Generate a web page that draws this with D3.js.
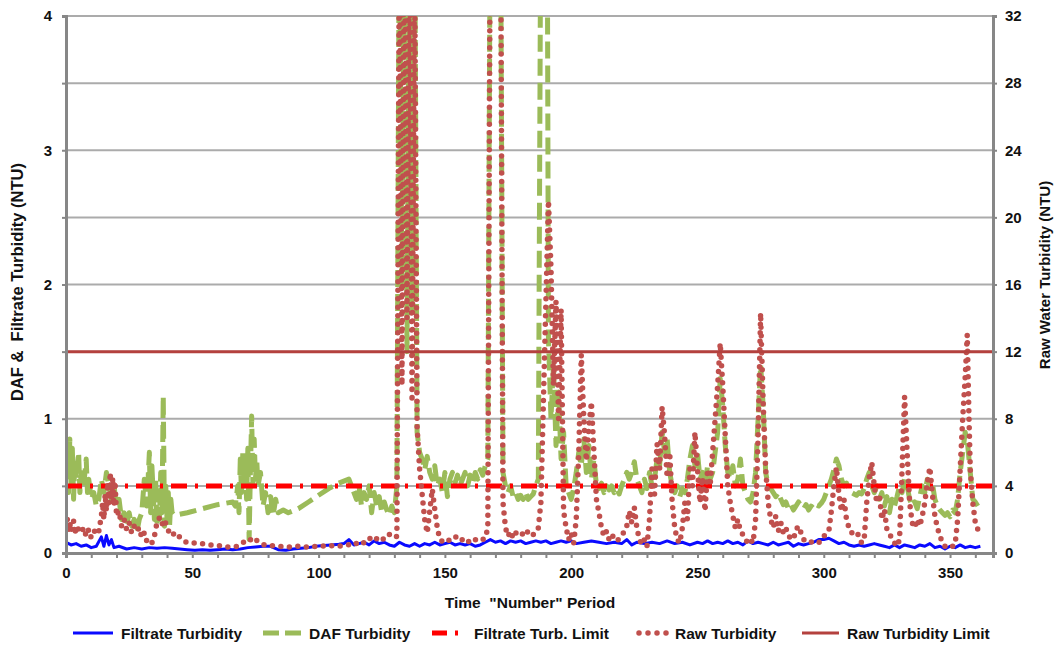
<!DOCTYPE html>
<html>
<head>
<meta charset="utf-8">
<script src="https://cdn.jsdelivr.net/npm/d3@7"></script>
<style>
  body { margin: 0; background: #fff; }
  text { font-family: "Liberation Sans", Arial, sans-serif; font-weight: bold; fill: #111; white-space: pre; }
</style>
</head>
<body>
<div id="chart-area"></div>
<script>
// ---- data: [time period, turbidity] ----
var filtrate = [[0,0.08],[2,0.06],[4,0.07],[6,0.05],[8,0.06],[10,0.04],[12,0.05],[14,0.12],[15,0.05],[16,0.13],[17,0.06],[18,0.1],[19,0.04],
  [21,0.05],[24,0.03],[27,0.04],[30,0.03],[33,0.04],[36,0.035],[39,0.04],[42,0.035],[45,0.03],[48,0.025],[51,0.02],[54,0.025],[57,0.02],
  [60,0.025],[63,0.03],[66,0.025],[69,0.03],[72,0.04],[75,0.045],[78,0.05],[81,0.05],[84,0.025],[87,0.02],[90,0.03],[93,0.035],[96,0.04],
  [99,0.05],[102,0.055],[105,0.06],[108,0.065],[110,0.07],[112,0.1],[114,0.06],[116,0.07],[118,0.08],[120,0.06],[122,0.09],[124,0.07],
  [126,0.08],[128,0.06],[130,0.05],[132,0.08],[134,0.06],[136,0.05],[138,0.07],[140,0.05],[142,0.07],[144,0.06],[146,0.08],[148,0.06],
  [150,0.07],[152,0.08],[154,0.06],[156,0.07],[158,0.06],[160,0.07],[162,0.05],[164,0.06],[166,0.08],[168,0.1],[170,0.08],[172,0.09],
  [174,0.07],[176,0.09],[178,0.08],[180,0.09],[182,0.07],[184,0.08],[186,0.09],[188,0.08],[190,0.09],[192,0.07],[194,0.08],[196,0.09],
  [198,0.08],[200,0.09],[202,0.07],[205,0.08],[208,0.09],[211,0.08],[214,0.07],[217,0.08],[220,0.07],[222,0.1],[224,0.06],[226,0.08],
  [229,0.07],[232,0.08],[235,0.07],[238,0.09],[241,0.07],[244,0.08],[247,0.06],[250,0.08],[252,0.07],[254,0.09],[256,0.07],[258,0.08],
  [260,0.07],[262,0.09],[264,0.07],[266,0.08],[268,0.06],[270,0.09],[272,0.07],[274,0.08],[276,0.07],[278,0.06],[280,0.08],[282,0.06],
  [284,0.07],[286,0.08],[288,0.05],[290,0.07],[292,0.06],[294,0.07],[296,0.08],[298,0.1],[300,0.1],[302,0.11],[304,0.09],[306,0.07],
  [308,0.08],[310,0.06],[312,0.05],[314,0.06],[316,0.05],[318,0.06],[320,0.07],[322,0.06],[324,0.05],[326,0.04],[328,0.06],[330,0.04],
  [332,0.06],[334,0.05],[336,0.04],[338,0.06],[340,0.05],[342,0.07],[344,0.04],[346,0.05],[348,0.03],[350,0.05],[352,0.04],[354,0.06],
  [356,0.04],[358,0.05],[360,0.04],[362,0.05]];

var daf = [[0,0.55],[0.5,0.8],[1,0.45],[1.5,0.85],[2,0.5],[2.5,0.78],[3,0.4],[3.5,0.7],[4,0.55],[5,0.75],[5.5,0.45],[6,0.6],[7,0.5],
  [8,0.7],[8.5,0.45],[9,0.55],[10,0.4],[11,0.45],[12,0.35],[13,0.4],[14,0.55],[15,0.45],[16,0.6],[17,0.5],[18,0.4],[19,0.5],[20,0.35],
  [21,0.4],[22,0.25],[23,0.3],[24,0.2],[25,0.3],[26,0.2],[27,0.25],[28,0.15],[29,0.25],[30,0.3],[31,0.55],[32,0.35],[33,0.75],[33.5,0.3],
  [34,0.65],[35,0.25],[35.5,0.55],[36,0.2],[36.5,0.45],[37,0.25],[37.5,0.6],[38,0.3],[38.5,1.17],[39,0.2],[39.5,0.5],[40,0.25],
  [40.5,0.45],[41,0.2],[41.5,0.4],[42,0.3],[43,0.28],[48,0.3],[54,0.33],[60,0.36],[66,0.38],[67,0.35],[68,0.5],[68.5,0.3],[69,0.7],
  [69.5,0.45],[70,0.75],[70.5,0.5],[71,0.65],[71.5,0.4],[72,0.78],[72.5,0.1],[73,0.6],[73.5,1.02],[74,0.5],[74.5,0.85],[75,0.55],
  [75.5,0.7],[76,0.5],[77,0.6],[78,0.35],[79,0.45],[80,0.3],[81,0.42],[82,0.28],[83,0.4],[84,0.3],[86,0.32],[88,0.3],[92,0.33],
  [96,0.38],[100,0.43],[104,0.48],[108,0.52],[112,0.55],[113,0.5],[114,0.45],[115,0.4],[116,0.5],[117,0.35],[118,0.45],[119,0.4],
  [120,0.5],[121,0.3],[122,0.45],[123,0.35],[124,0.42],[125,0.3],[126,0.38],[127,0.32],[128,0.28],[129,0.35],[130,0.3],[131,0.5],
  [132,5],[133,2],[134,5],[135,1.5],[136,5],[137,1.8],[138,5],[139,0.9],[140,0.75],[141,0.7],[142,0.62],[143,0.72],[144,0.6],
  [145,0.55],[146,0.65],[147,0.5],[148,0.55],[149,0.45],[150,0.6],[151,0.42],[152,0.55],[153,0.6],[154,0.52],[155,0.58],[156,0.5],
  [157,0.55],[158,0.6],[159,0.5],[160,0.58],[161,0.52],[162,0.6],[163,0.55],[164,0.62],[165,0.58],[166,0.65],[167,0.7],[168,5],
  [172,5],[173,0.6],[174,0.5],[175,0.45],[176,0.5],[177,0.42],[178,0.45],[179,0.4],[180,0.43],[181,0.4],[182,0.45],[183,0.4],
  [184,0.42],[185,0.44],[186,0.5],[187,0.55],[188,5],[190.5,5],[191,1.6],[192,1],[193,1.4],[194,0.8],[195,1.2],[196,0.7],[197,0.9],
  [198,0.5],[199,0.45],[200,0.4],[201,0.48],[202,0.6],[203,0.75],[204,0.65],[205,0.85],[206,0.6],[207,0.8],[208,0.55],[209,0.7],
  [210,0.5],[211,0.48],[212,0.52],[213,0.45],[214,0.5],[215,0.47],[216,0.5],[217,0.45],[218,0.48],[219,0.44],[220,0.5],[221,0.55],
  [222,0.6],[223,0.55],[224,0.6],[225,0.68],[226,0.55],[227,0.5],[228,0.45],[229,0.55],[230,0.48],[231,0.6],[232,0.5],[233,0.55],
  [234,0.7],[235,0.65],[236,0.9],[237,0.75],[238,0.85],[239,0.6],[240,0.5],[241,0.45],[242,0.5],[243,0.42],[244,0.48],[245,0.45],
  [246,0.55],[247,0.7],[248,0.8],[249,0.65],[250,0.75],[251,0.55],[252,0.6],[253,0.5],[254,0.65],[255,0.55],[256,0.6],[257,0.75],
  [258,0.9],[259,1.3],[260,1.1],[261,0.8],[262,0.6],[263,0.55],[264,0.65],[265,0.5],[266,0.55],[267,0.7],[268,0.5],[269,0.45],
  [270,0.4],[271,0.38],[272,0.45],[273,0.6],[274,1],[275,1.4],[276,1.1],[277,0.6],[278,0.5],[279,0.48],[280,0.45],[281,0.42],
  [282,0.45],[283,0.4],[284,0.36],[285,0.38],[286,0.33],[287,0.36],[288,0.32],[289,0.35],[290,0.38],[291,0.35],[292,0.33],[293,0.36],
  [294,0.32],[295,0.35],[296,0.33],[297,0.36],[298,0.35],[299,0.37],[300,0.4],[301,0.45],[302,0.5],[303,0.55],[304,0.62],[305,0.7],
  [306,0.65],[307,0.55],[308,0.5],[309,0.52],[310,0.48],[311,0.45],[312,0.44],[313,0.43],[314,0.45],[315,0.44],[316,0.48],[317,0.55],
  [318,0.6],[319,0.5],[320,0.45],[321,0.5],[322,0.4],[323,0.45],[324,0.35],[325,0.42],[326,0.3],[327,0.4],[328,0.35],[329,0.42],
  [330,0.5],[331,0.45],[332,0.55],[333,0.5],[334,0.4],[335,0.35],[336,0.38],[337,0.33],[338,0.42],[339,0.5],[340,0.45],[341,0.55],
  [342,0.48],[343,0.52],[344,0.4],[345,0.35],[346,0.32],[347,0.3],[348,0.28],[349,0.3],[350,0.27],[351,0.32],[352,0.3],[353,0.4],
  [354,0.6],[355,0.75],[356,0.9],[357,0.8],[358,0.6],[359,0.4],[360,0.38],[361,0.35],[362,0.32]];

var raw = [[0,1.5],[0.5,2],[1,1.2],[1.5,1.8],[2,1.3],[3,1.9],[3.5,1.1],[4,1.6],[5,1.4],[6,1.2],[7,1.5],[8,1],[9,1.4],[10,0.9],[11,1.2],
  [12,1.5],[13,1.3],[14,2.2],[14.5,3],[15,2],[15.5,3.5],[16,2.5],[16.5,4.2],[17,3],[17.5,4.8],[18,3.2],[18.5,4.5],[19,2.8],[19.5,4],
  [20,2.2],[21,2.5],[22,1.6],[23,2],[24,1.4],[25,1.8],[26,1.2],[27,1.6],[28,1.3],[29,1.5],[30,0.9],[31,1.2],[32,0.7],[33,0.8],[34,0.6],
  [35,1],[36,1.8],[37,2.1],[38,1.7],[39,2],[40,1.5],[41,1.2],[42,1.3],[43,1],[44,1.1],[46,0.8],[48,0.6],[52,0.6],[56,0.5],[60,0.45],
  [64,0.35],[68,0.4],[70,0.6],[71,0.75],[72,0.7],[73,0.8],[74,0.65],[75,0.8],[76,0.7],[77,0.6],[78,0.5],[80,0.45],[84,0.4],[88,0.35],
  [92,0.4],[96,0.35],[100,0.4],[104,0.45],[108,0.4],[112,0.5],[114,0.45],[116,0.7],[118,0.6],[120,0.9],[122,0.7],[124,1],[126,0.8],
  [128,1.1],[130,0.9],[131,1],[132,38],[133,10],[134,40],[135,14],[136,40],[137,9],[138,36],[139,7.5],[140,5],[141,3.5],[142,2],
  [143,1.2],[144,2.5],[145,3.8],[146,2.6],[147,1.5],[148,0.8],[150,0.6],[152,0.8],[154,1],[156,0.7],[158,0.9],[160,0.6],[162,0.8],
  [164,0.7],[166,0.9],[167,1.5],[168,40],[172,40],[173,3],[174,1.5],[175,1],[176,1.3],[177,0.9],[178,1.2],[180,1],[182,1.4],[184,1],
  [186,1.2],[187,1.5],[188,3],[189,9],[190,15],[191,21],[192,17],[193,10],[194,15],[195,8],[196,14.5],[197,2.5],[198,1.5],[199,0.8],
  [200,1.2],[201,0.6],[202,2],[203,6],[204,11.8],[205,8],[206,5.5],[207,7.5],[208,9],[209,6],[210,3.2],[211,2.4],[212,1.5],[213,1],
  [214,1.3],[215,0.8],[216,1.1],[218,0.7],[220,1],[222,1.6],[223,2.5],[224,1.8],[225,2.7],[226,1.5],[227,0.8],[228,0.5],[229,0.8],
  [230,0.4],[231,2],[232,5],[233,3.5],[234,6.5],[235,5],[236,8.7],[237,7],[238,4.5],[239,6],[240,3],[241,1.5],[242,0.8],[243,0.6],
  [244,1.5],[245,3],[246,2],[247,5],[248,4],[249,7.2],[250,5],[251,3],[252,4.5],[253,2.5],[254,5],[255,4],[256,6],[257,8],[258,10],
  [259,12.5],[260,10],[261,7],[262,4],[263,3],[264,2.2],[265,1.5],[266,2],[267,1.3],[268,1.1],[269,0.8],[270,0.6],[271,0.8],[272,0.6],
  [273,2],[274,7],[275,14.3],[276,9],[277,5],[278,3],[279,2],[280,1.5],[281,2.2],[282,1.3],[283,1.8],[284,1.2],[285,1.5],[286,1],
  [288,0.8],[289,1.4],[290,1.6],[291,1.2],[292,0.8],[294,0.6],[296,0.7],[298,0.6],[300,1],[302,1.3],[303,2.5],[304,4],[305,5.1],
  [306,3.5],[307,2.5],[308,3.2],[309,2],[310,1.5],[311,1.2],[313,1.3],[315,0.6],[316,0.8],[317,3],[318,4.5],[319,5.4],[320,4],[321,3],
  [322,3.5],[323,2],[324,2.6],[325,1.4],[326,1.2],[327,0.8],[328,0.6],[329,0.4],[330,0.8],[331,5],[332,9.3],[333,6],[334,3],[335,1.8],
  [336,1.5],[337,2],[338,1.6],[339,2.2],[340,3],[341,4.2],[342,5.1],[343,3.5],[344,2.2],[345,1.5],[346,1],[347,0.6],[348,0.4],[350,0.3],
  [352,0.5],[353,2],[354,5],[355,8],[356,10.5],[356.8,13],[357.5,8],[358,5],[359,3],[360,1.8],[361,1.4]];

var filtrateLimit = 0.5;   // NTU, left axis
var rawLimit = 12;         // NTU, right axis
var leftTicks = [0, 1, 2, 3, 4];
var rightTicks = [0, 4, 8, 12, 16, 20, 24, 28, 32];
var xTicks = [0, 50, 100, 150, 200, 250, 300, 350];
var legendNames = ["Filtrate Turbidity", "DAF Turbidity", "Filtrate Turb. Limit", "Raw Turbidity", "Raw Turbidity Limit"];

var margin = { left: 66, right: 63, top: 16, bottom: 94 };
var width = 1056 - margin.left - margin.right;
var height = 647 - margin.top - margin.bottom;

var svg = d3.select("#chart-area").append("svg")
    .attr("width", 1056)
    .attr("height", 647);
var g = svg.append("g")
    .attr("transform", "translate(" + margin.left + "," + margin.top + ")");

var x = d3.scaleLinear().domain([0, 367]).range([0, width]);
var yL = d3.scaleLinear().domain([0, 4]).range([height, 0]);
var yR = d3.scaleLinear().domain([0, 32]).range([height, 0]);

// gridlines every 0.5 on left axis
g.append("g").selectAll("line")
    .data(d3.range(0.5, 4.01, 0.5))
    .enter().append("line")
    .attr("x1", 0).attr("x2", width)
    .attr("y1", d => yL(d)).attr("y2", d => yL(d))
    .attr("stroke", "#ababab")
    .attr("stroke-width", 2);

svg.append("defs").append("clipPath").attr("id", "plot-clip")
    .append("rect").attr("width", width).attr("height", height);

var plot = g.append("g").attr("clip-path", "url(#plot-clip)");

var lineL = d3.line().x(d => x(d[0])).y(d => yL(d[1]));
var lineR = d3.line().x(d => x(d[0])).y(d => yR(d[1]));

plot.append("path").datum(filtrate)
    .attr("d", lineL).attr("fill", "none")
    .attr("stroke", "#0a0aff").attr("stroke-width", 3).attr("stroke-linejoin", "round");

plot.append("path").datum(daf)
    .attr("d", lineL).attr("fill", "none")
    .attr("stroke", "#9bbb59").attr("stroke-width", 5)
    .attr("stroke-dasharray", "17,7").attr("stroke-linejoin", "round");

plot.append("line")
    .attr("x1", 0).attr("x2", width)
    .attr("y1", yL(filtrateLimit)).attr("y2", yL(filtrateLimit))
    .attr("stroke", "#ff0000").attr("stroke-width", 5)
    .attr("stroke-dasharray", "16,8,3,8");

plot.append("path").datum(raw)
    .attr("d", lineR).attr("fill", "none")
    .attr("stroke", "#c0504d").attr("stroke-width", 5.5)
    .attr("stroke-linecap", "round").attr("stroke-dasharray", "0,8.5");

plot.append("line")
    .attr("x1", 0).attr("x2", width)
    .attr("y1", yR(rawLimit)).attr("y2", yR(rawLimit))
    .attr("stroke", "#b4413e").attr("stroke-width", 3);

// axes
var axisColor = "#878787";
var yAxisL = g.append("g")
    .call(d3.axisLeft(yL).tickValues(d3.range(0, 4.01, 0.5)).tickSize(4).tickPadding(10)
        .tickFormat(d => leftTicks.indexOf(d) >= 0 ? d : ""));
var yAxisR = g.append("g")
    .attr("transform", "translate(" + width + ",0)")
    .call(d3.axisRight(yR).tickValues(rightTicks).tickSize(4).tickPadding(8));
var xAxis = g.append("g")
    .attr("transform", "translate(0," + height + ")")
    .call(d3.axisBottom(x).tickValues(d3.range(0, 361, 10)).tickSize(5).tickPadding(9)
        .tickFormat(d => xTicks.indexOf(d) >= 0 ? d : ""));

[yAxisL, yAxisR, xAxis].forEach(function (a) {
    a.select(".domain").attr("stroke", axisColor).attr("stroke-width", 3);
    a.selectAll(".tick line").attr("stroke", axisColor).attr("stroke-width", 2);
    a.selectAll(".tick text").attr("font-size", "15px").attr("fill", "#111")
        .attr("font-family", "Liberation Sans, Arial, sans-serif").attr("font-weight", "bold");
});

// axis titles
g.append("text")
    .attr("transform", "rotate(-90)")
    .attr("x", -266).attr("y", -43)
    .attr("font-size", "16.5px").attr("text-anchor", "middle")
    .text("DAF &  Filtrate Turbidity (NTU)");
g.append("text")
    .attr("transform", "rotate(-90)")
    .attr("x", -259).attr("y", width + 57)
    .attr("font-size", "15px").attr("text-anchor", "middle")
    .text("Raw Water Turbidity (NTU)");
g.append("text")
    .attr("x", 530 - margin.left).attr("y", height + 55)
    .attr("font-size", "15.5px").attr("text-anchor", "middle")
    .text('Time  "Number" Period');

// legend
var legendX = [73, 263, 432, 637, 802];
var legendW = [40, 38, 34, 30, 37];
var ly = 633;
var leg = svg.append("g");
leg.append("line").attr("x1", legendX[0]).attr("x2", legendX[0] + legendW[0]).attr("y1", ly).attr("y2", ly)
    .attr("stroke", "#0a0aff").attr("stroke-width", 3);
leg.append("line").attr("x1", legendX[1]).attr("x2", legendX[1] + legendW[1]).attr("y1", ly).attr("y2", ly)
    .attr("stroke", "#9bbb59").attr("stroke-width", 5).attr("stroke-dasharray", "16,6");
leg.append("line").attr("x1", legendX[2]).attr("x2", legendX[2] + legendW[2]).attr("y1", ly).attr("y2", ly)
    .attr("stroke", "#ff0000").attr("stroke-width", 5).attr("stroke-dasharray", "15,8,3,8");
leg.append("line").attr("x1", legendX[3] + 2).attr("x2", legendX[3] + legendW[3]).attr("y1", ly).attr("y2", ly)
    .attr("stroke", "#c0504d").attr("stroke-width", 5.5).attr("stroke-linecap", "round").attr("stroke-dasharray", "0,9");
leg.append("line").attr("x1", legendX[4]).attr("x2", legendX[4] + legendW[4]).attr("y1", ly).attr("y2", ly)
    .attr("stroke", "#b4413e").attr("stroke-width", 3);
leg.selectAll("text").data(legendNames).enter().append("text")
    .attr("x", (d, i) => legendX[i] + legendW[i] + 8)
    .attr("y", ly + 5.5)
    .attr("font-size", "15.5px")
    .text(d => d);
</script>
</body>
</html>
